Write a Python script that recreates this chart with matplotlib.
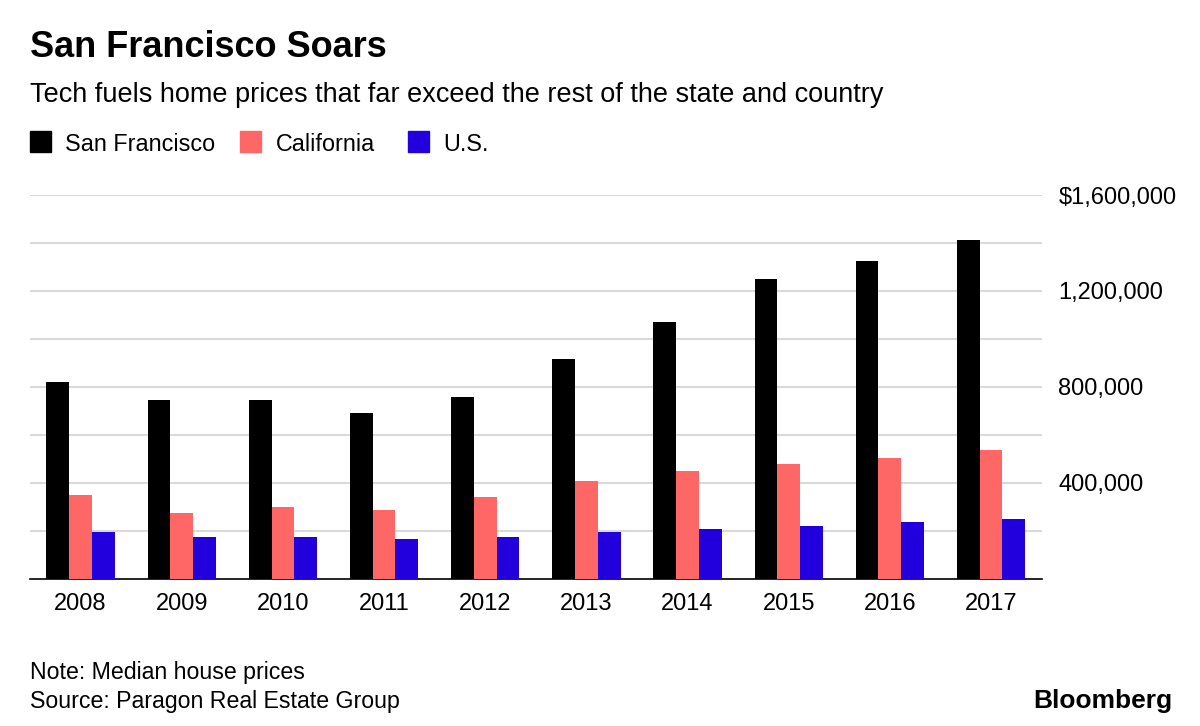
import matplotlib
matplotlib.use("Agg")
import matplotlib.pyplot as plt
import numpy as np

years = ["2008","2009","2010","2011","2012","2013","2014","2015","2016","2017"]
sf = [821000,746000,746000,692000,758000,917000,1071000,1250000,1325000,1412000]
ca = [350000,275000,300000,287000,342000,408000,450000,479000,504000,537000]
us = [196000,175000,175000,167000,175000,196000,208000,221000,237000,250000]

plt.rcParams['font.family'] = ['Liberation Sans', 'DejaVu Sans']
fig = plt.figure(figsize=(12, 7.26), dpi=100)
ax = fig.add_axes([0.025, 0.2025, 0.843, 0.5289])
x = np.arange(len(years))
w = 0.225
ax.bar(x - w, sf, w, color='#000000', zorder=3)
ax.bar(x, ca, w, color='#ff6666', zorder=3)
ax.bar(x + w, us, w, color='#2200dd', zorder=3)
ax.set_xlim(-0.5, 9.5)
ax.set_ylim(0, 1600000)
ax.set_yticks(np.arange(200000, 1600001, 200000))
ax.yaxis.grid(True, color='#d9d9d9', linewidth=1.5, zorder=0)
ax.yaxis.tick_right()
labs = []
for v in np.arange(200000, 1600001, 200000):
    if v % 400000 == 0:
        labs.append("$1,600,000" if v == 1600000 else f"{v:,}")
    else:
        labs.append("")
ax.set_yticklabels(labs, fontsize=17)
ax.tick_params(axis='y', length=0, pad=12)
ax.set_xticks(x)
ax.set_xticklabels(years, fontsize=17)
ax.tick_params(axis='x', length=0, pad=10)
for s in ['top', 'right', 'left']:
    ax.spines[s].set_visible(False)
ax.spines['bottom'].set_color('#000000')
ax.spines['bottom'].set_linewidth(1.2)

fig.text(0.025, 0.922, "San Francisco Soars", fontsize=26, fontweight='bold')
fig.text(0.025, 0.86, "Tech fuels home prices that far exceed the rest of the state and country", fontsize=19.5)
lx = [0.025, 0.2, 0.34]
names = ["San Francisco", "California", "U.S."]
cols = ['#000000', '#ff6666', '#2200dd']
for xx, n, c in zip(lx, names, cols):
    fig.patches.append(plt.Rectangle((xx, 0.79), 0.0175, 0.029, color=c, transform=fig.transFigure, figure=fig))
    fig.text(xx + 0.0295, 0.792, n, fontsize=16.8)
fig.text(0.025, 0.065, "Note: Median house prices", fontsize=16.7)
fig.text(0.025, 0.025, "Source: Paragon Real Estate Group", fontsize=16.7)
fig.text(0.977, 0.025, "Bloomberg", fontsize=19, fontweight='bold', ha='right')
fig.savefig("out.png", dpi=100)
